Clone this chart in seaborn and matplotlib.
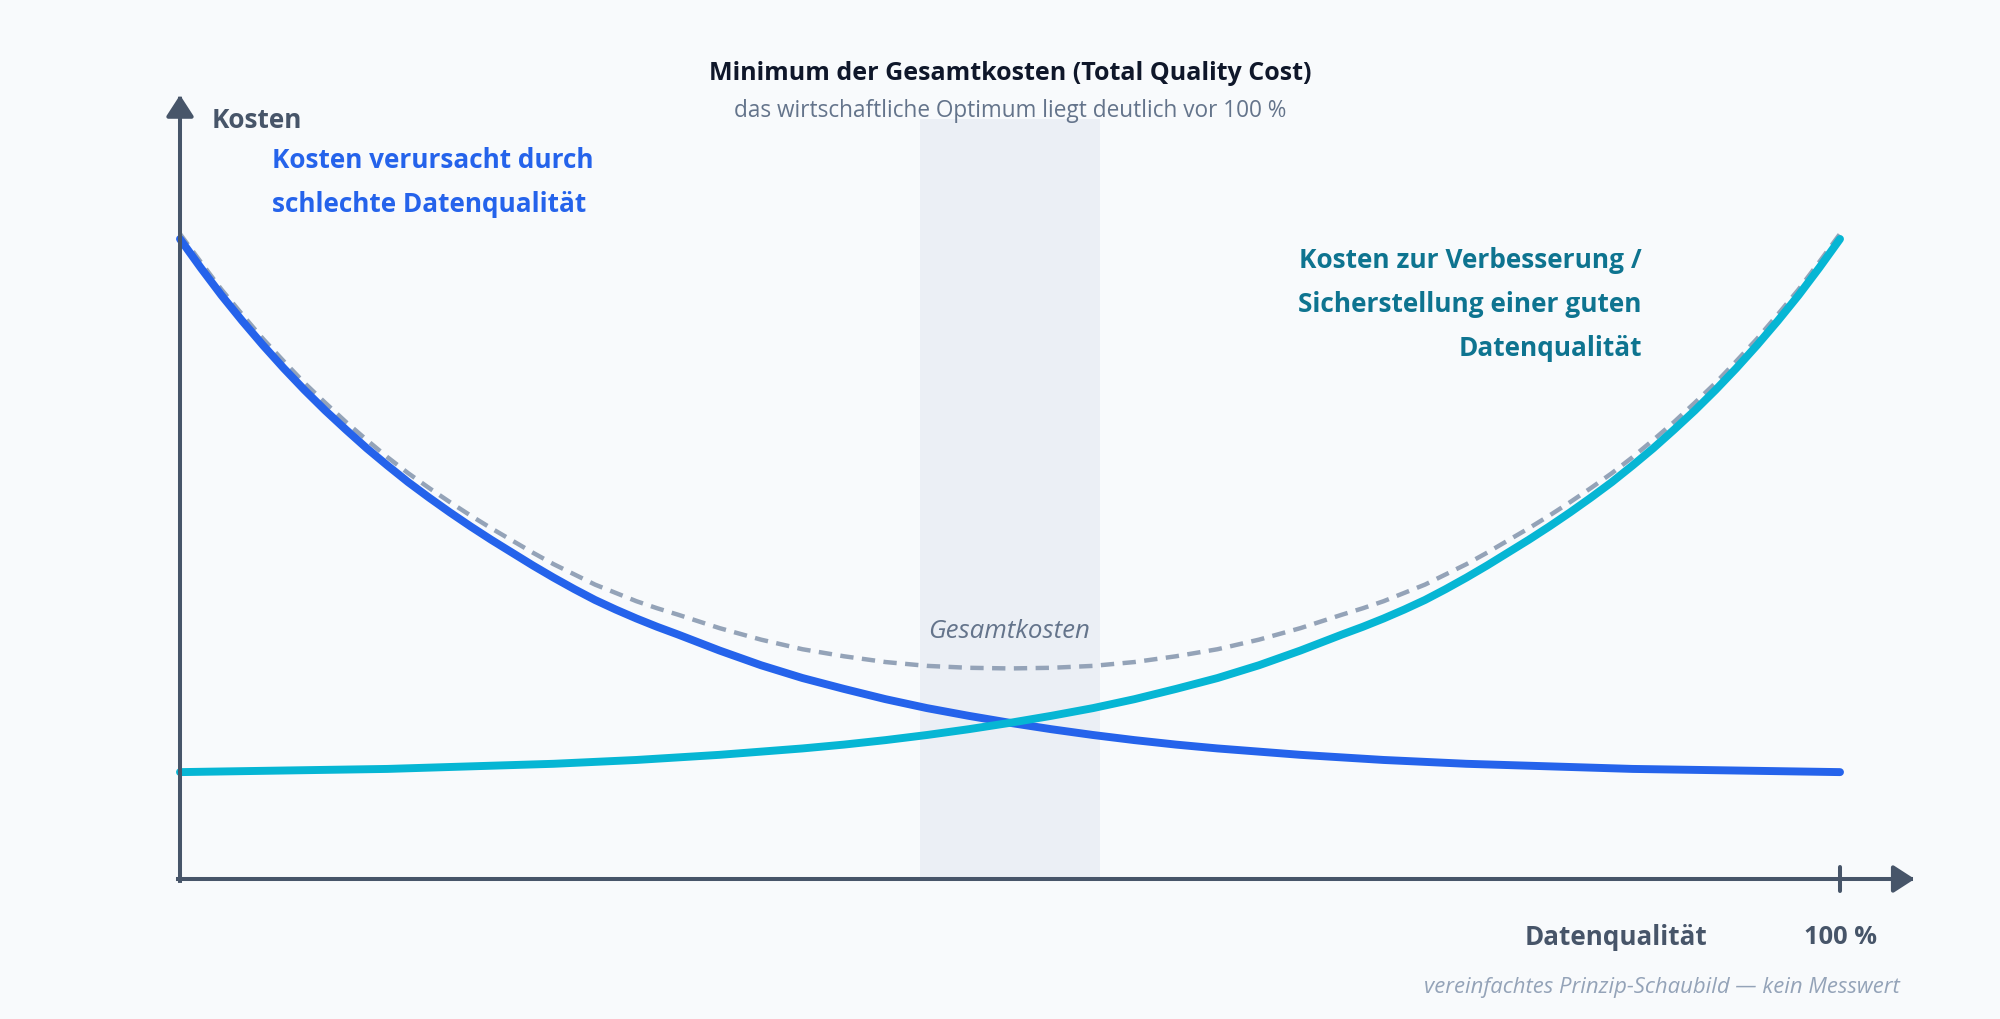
import numpy as np
import pandas as pd
import seaborn as sns
import matplotlib
matplotlib.use("Agg")
import matplotlib.pyplot as plt

# Datenqualität in % (x) and cost values
quality = [0, 1.25, 2.5, 3.75, 5, 6.25, 7.5, 8.75, 10, 11.25, 12.5, 13.75, 15, 16.25, 17.5, 18.75,
           20, 21.25, 22.5, 23.75, 25, 26.25, 27.5, 28.75, 30, 32.5, 35, 37.5, 40, 42.5, 45, 47.5,
           50, 52.5, 55, 57.5, 60, 62.5, 65, 67.5, 70, 71.25, 72.5, 73.75, 75, 76.25, 77.5, 78.75,
           80, 81.25, 82.5, 83.75, 85, 86.25, 87.5, 88.75, 90, 91.25, 92.5, 93.75, 95, 96.25, 97.5, 98.75, 100]
cost_bad = [100, 95.5, 91.2, 87.2, 83.4, 79.8, 76.4, 73.2, 70.2, 67.3, 64.6, 62.0, 59.6, 57.3, 55.1, 53.0,
            51.0, 49.0, 47.1, 45.3, 43.6, 42.1, 40.7, 39.4, 38.2, 35.7, 33.4, 31.4, 29.7, 28.1, 26.7, 25.5,
            24.4, 23.4, 22.5, 21.7, 21.0, 20.4, 19.9, 19.4, 19.0, 18.8, 18.6, 18.45, 18.3, 18.15, 18.0, 17.9,
            17.8, 17.7, 17.6, 17.5, 17.4, 17.3, 17.2, 17.15, 17.1, 17.05, 17.0, 16.95, 16.9, 16.85, 16.8, 16.75, 16.7]
cost_improve = [16.7, 16.75, 16.8, 16.85, 16.9, 16.95, 17.0, 17.05, 17.1, 17.15, 17.2, 17.3, 17.4, 17.5, 17.6, 17.7,
                17.8, 17.9, 18.0, 18.15, 18.3, 18.45, 18.6, 18.8, 19.0, 19.4, 19.9, 20.4, 21.0, 21.7, 22.5, 23.4,
                24.4, 25.5, 26.7, 28.1, 29.7, 31.4, 33.4, 35.7, 38.2, 39.4, 40.7, 42.1, 43.6, 45.3, 47.1, 49.0,
                51.0, 53.0, 55.1, 57.3, 59.6, 62.0, 64.6, 67.3, 70.2, 73.2, 76.4, 79.8, 83.4, 87.2, 91.2, 95.5, 100]
cost_total = [100.8, 96.4, 92.1, 88.2, 84.4, 80.9, 77.5, 74.4, 71.4, 68.6, 65.9, 63.4, 61.1, 58.9, 56.8, 54.8,
              52.9, 51.0, 49.2, 47.6, 46.0, 44.7, 43.4, 42.3, 41.3, 39.2, 37.4, 35.9, 34.8, 33.9, 33.3, 33.0,
              32.9, 33.0, 33.3, 33.9, 34.8, 35.9, 37.4, 39.2, 41.3, 42.3, 43.4, 44.7, 46.0, 47.6, 49.2, 51.0,
              52.9, 54.8, 56.8, 58.9, 61.1, 63.4, 65.9, 68.6, 71.4, 74.4, 77.5, 80.9, 84.4, 88.2, 92.1, 96.4, 100.8]

# shaded optimum band (in % Datenqualität)
opt_lo, opt_hi = 44.6, 55.4

df = pd.DataFrame({"q": quality, "bad": cost_bad, "improve": cost_improve, "total": cost_total})

BG = "#f8fafc"
AXIS = "#475569"
BLUE = "#2563eb"
CYAN = "#06b6d4"
TEAL = "#0e7490"
GREY = "#94a3b8"

sns.set_style("white")
plt.rcParams["font.family"] = ["Open Sans", "DejaVu Sans"]

fig = plt.figure(figsize=(20, 10.2), dpi=100, facecolor=BG)
ax = fig.add_axes([0, 0, 1, 1], facecolor=BG)
# 1 % quality = 16.6 px, 1 cost unit = 6.4 px, origin at (180, 880) px
ax.set_xlim(-180 / 16.6, 1820 / 16.6)
ax.set_ylim(-140 / 6.4, 880 / 6.4)
ax.axis("off")

# optimum band
ax.fill_between([opt_lo, opt_hi], 0, 118.75, color="#ebeff5", lw=0, zorder=0)

# curves
sns.lineplot(data=df, x="q", y="total", ax=ax, color=GREY, lw=3.2,
             linestyle=(0, (3, 1.9)), zorder=2)
sns.lineplot(data=df, x="q", y="bad", ax=ax, color=BLUE, lw=5.7,
             solid_capstyle="round", solid_joinstyle="round", zorder=3)
sns.lineplot(data=df, x="q", y="improve", ax=ax, color=CYAN, lw=5.7,
             solid_capstyle="round", solid_joinstyle="round", zorder=4)

# axis arrows
arrow = dict(arrowstyle="-|>,head_length=0.65,head_width=0.42", lw=2.9, color=AXIS,
             mutation_scale=20, shrinkA=0, shrinkB=0, capstyle="projecting")
ax.annotate("", xy=(0, 122.5), xytext=(0, -0.3), arrowprops=arrow, zorder=5)
ax.annotate("", xy=(104.5, 0), xytext=(-0.12, 0), arrowprops=arrow, zorder=5)
ax.plot([100, 100], [-1.9, 1.9], color=AXIS, lw=2.9, zorder=5)
ax.set_xlabel("")
ax.set_ylabel("")


def px(x, y):
    # pixel position -> figure fraction (small downward nudge for the font's centre)
    return x / 2000, 1 - (y + 3) / 1020


fig.text(*px(1010, 70), "Minimum der Gesamtkosten (Total Quality Cost)", ha="center", va="center",
         fontsize=18, fontweight="bold", color="#0f172a")
fig.text(*px(1010, 108), "das wirtschaftliche Optimum liegt deutlich vor 100 %", ha="center", va="center",
         fontsize=16.3, color="#64748b")

fig.text(*px(212, 118), "Kosten", ha="left", va="center", fontsize=18.8, fontweight="bold", color=AXIS)
fig.text(*px(272, 158), "Kosten verursacht durch", ha="left", va="center",
         fontsize=18.8, fontweight="bold", color=BLUE)
fig.text(*px(272, 202), "schlechte Datenqualität", ha="left", va="center",
         fontsize=18.8, fontweight="bold", color=BLUE)

for yy, line in zip([258, 302, 346], ["Kosten zur Verbesserung /", "Sicherstellung einer guten", "Datenqualität"]):
    fig.text(*px(1642, yy), line, ha="right", va="center", fontsize=18.9, fontweight="bold", color=TEAL)

fig.text(*px(1009, 629), "Gesamtkosten", ha="center", va="center", fontsize=18.6,
         fontstyle="italic", color="#64748b")

fig.text(*px(1616, 935), "Datenqualität", ha="center", va="center", fontsize=18.7,
         fontweight="bold", color=AXIS)
fig.text(*px(1840, 935), "100 %", ha="center", va="center", fontsize=18.3,
         fontweight="bold", color=AXIS)
fig.text(*px(1900, 985), "vereinfachtes Prinzip-Schaubild — kein Messwert", ha="right", va="center",
         fontsize=15.9, fontstyle="italic", color=GREY)

fig.savefig("out.png", dpi=100, facecolor=BG)
